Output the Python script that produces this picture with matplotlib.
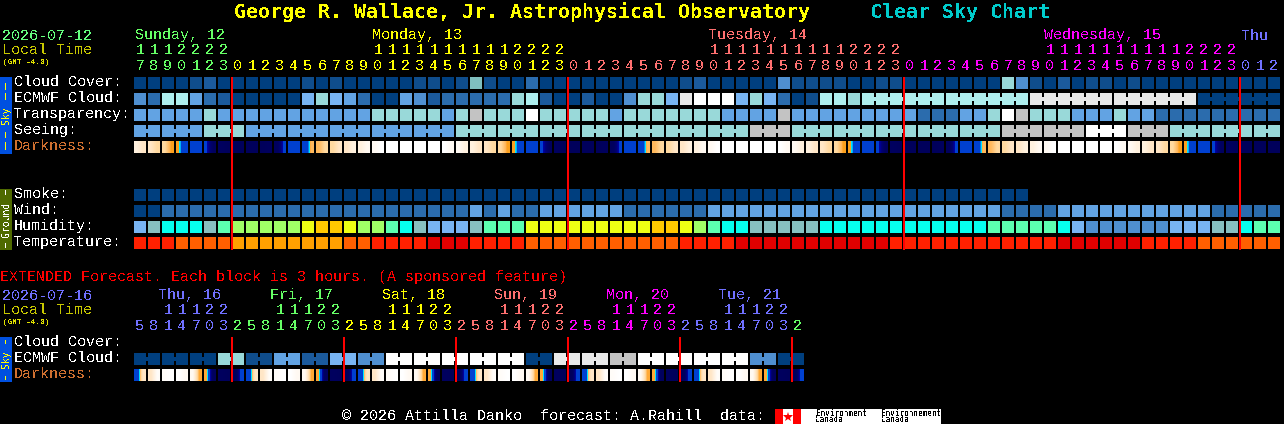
import matplotlib
matplotlib.use('Agg')
import matplotlib.pyplot as plt
from matplotlib.colors import LinearSegmentedColormap

plt.rcParams['font.family'] = ['Liberation Mono', 'DejaVu Sans Mono']
plt.rcParams['text.antialiased'] = False

# block colours, shared by the sky rows
palette = {
    'A': '#003f7f', 'B': '#0f4d8c', 'C': '#1b5a9c', 'D': '#2b6cad', 'E': '#4f8fd0',
    'F': '#62a3e3', 'G': '#78b4f2', 'H': '#99d9d9', 'T': '#7fbfbf', 'I': '#aeeeee',
    'J': '#c3c3c3', 'K': '#e9e9e9', 'L': '#ffffff',
    # humidity
    'a': '#78b4f2', 'b': '#87c0c0', 'c': '#06ffee', 'd': '#5cffb0', 'e': '#a0ff66',
    'f': '#eeff14', 'g': '#ffc800', 'h': '#4f8fd0',
    # temperature
    'p': '#ff2000', 'q': '#ff5f00', 'r': '#ffa000', 's': '#e00000',
}

hours = [17, 18, 19, 20, 21, 22, 23,
         0, 1, 2, 3, 4, 5, 6, 7, 8, 9, 10, 11, 12, 13, 14, 15, 16, 17, 18, 19, 20, 21, 22, 23,
         0, 1, 2, 3, 4, 5, 6, 7, 8, 9, 10, 11, 12, 13, 14, 15, 16, 17, 18, 19, 20, 21, 22, 23,
         0, 1, 2, 3, 4, 5, 6, 7, 8, 9, 10, 11, 12, 13, 14, 15, 16, 17, 18, 19, 20, 21, 22, 23,
         0, 1, 2]
hour_colors = ['#66ff66'] * 7 + ['#ffff00'] * 24 + ['#ff7070'] * 24 + ['#ff00ff'] * 24 + ['#7070ff'] * 3

cloud = 'AAAABCAAAAAABABAAAAAB' 'BABTBAADAAAAAAAAAABCAAAAAEBBBBA' 'ABBAAAAAAAHEBACABBABAAAAAAAAAA'
ecmwf = 'EDIIFDCAAAAAGHGFDAAFE' 'CDDDDDHICAACAAEHHGKLLLGHGDABIIH' 'IIIIIIIIIIIIKKKKKKKKKKKKAAAAAA'
transparency = 'FFFFFHFFFFFFFFFFFHHHHH' 'FHJHHHLHHHHHFHHHHHHHFFFFJFFFFF' 'FFFFDDDFFHLJHHHFFFHFFDDDDDDDDD'
seeing_groups = 'FFHFFFFFHHHHHHHJHHHHHJJLJHHH'
seeing_sizes = [2, 3, 3, 3, 3, 3, 3, 3, 3, 3, 3, 3, 3, 3, 3, 3, 3, 3, 3, 3, 3, 3, 3, 3, 3, 3, 3, 2]
smoke = 'AAAAAAAAAAAAAAAAAAAAAAAAAAAAAAAAAAAAAAAAAAAAAAAAAAAAAAAAAAAAAAAA'
wind = 'AADDDDDDDDDDDDDDDDDDDDDD' 'FDFDDFFFFFFDDDDDD' 'FFFFFFFFFFFFFFFFFFFFF' 'DDDD' 'FFFFFFFFFFF' 'DDDDD'
humidity = 'abcccbdeeeeefggfeedcb' 'aaabdddfffffffffggfedccbbbbbccc' 'ccccccccc' 'dddddcahhhhhhaaabbcdd'
temperature = 'pppqqqqrrrrrrrrqqpppp' 'ssspppp' 'qqqqqqqqqqq' 'pppp' 'sssssssssss' 'pppppppppppp' 'ssssss' 'pppp' 'qqqqqq'

# darkness level at the edges of each block (0 = daylight, 1 = full dark)
darkness = [.12, .22, .32, .43, .60, .66, .85, .95, .97, .97, .90, .66, .60, .40, .32, .22, .12, .04,
            0, 0, 0, 0, 0, .04,
            .12, .22, .32, .43, .60, .66, .85, .95, .97, .97, .90, .66, .60, .40, .32, .22, .12, .04,
            0, 0, 0, 0, 0, .04,
            .12, .22, .32, .43, .60, .66, .85, .95, .97, .97, .90, .66, .60, .40, .32, .22, .12, .04,
            0, 0, 0, 0, 0, .04,
            .12, .22, .32, .43, .60, .66, .85, .95, .97, .97, .97]
dark_stops = [(0, '#ffffff'), (.04, '#fff9f2'), (.12, '#fff1df'), (.22, '#ffe6c6'), (.32, '#ffd9a0'),
              (.41, '#ffb454'), (.43, '#ff9f1a'), (.437, '#00e5ff'), (.462, '#00e5ff'), (.48, '#0090f0'), (.495, '#0040d0'),
              (.66, '#0040d0'), (.67, '#0000a8'), (.75, '#000075'), (.85, '#000060'), (1, '#00005a')]
dark_cmap = LinearSegmentedColormap.from_list('darkness', dark_stops, N=1024)

ext_hours = [5, 8, 11, 14, 17, 20, 23,
             2, 5, 8, 11, 14, 17, 20, 23,
             2, 5, 8, 11, 14, 17, 20, 23,
             2, 5, 8, 11, 14, 17, 20, 23,
             2, 5, 8, 11, 14, 17, 20, 23,
             2, 5, 8, 11, 14, 17, 20, 23,
             2]
ext_colors = ['#7070ff'] * 7 + ['#66ff66'] * 8 + ['#ffff00'] * 8 + ['#ff7070'] * 8 + ['#ff00ff'] * 8 + ['#7070ff'] * 8 + ['#66ff66']
ext_ecmwf = 'AAAHBFCGELLLLLAKKJLLLLEA'
ext_darkness = [.60, .22, .02, 0, .04, .42, .88, .95,
                .60, .22, .02, 0, .04, .42, .88, .95,
                .60, .22, .02, 0, .04, .42, .88, .95,
                .60, .22, .02, 0, .04, .42, .88, .95,
                .60, .22, .02, 0, .04, .42, .88, .95,
                .60, .22, .02, 0, .04, .42, .88, .95, .60]

days = [('Sunday, 12', 135, '#66ff66'), ('Monday, 13', 372, '#ffff00'), ('Tuesday, 14', 708, '#ff7070'),
        ('Wednesday, 15', 1044, '#ff00ff'), ('Thu', 1241, '#7070ff')]
ext_days = [('Thu, 16', 158, '#7070ff'), ('Fri, 17', 270, '#66ff66'), ('Sat, 18', 382, '#ffff00'),
            ('Sun, 19', 494, '#ff7070'), ('Mon, 20', 606, '#ff00ff'), ('Tue, 21', 718, '#7070ff')]
midnights = [232, 568, 904, 1240]
ext_midnights = [232, 344, 456, 568, 680, 792]

X0 = 134
PITCH = 14
SIZE = 12

fig = plt.figure(figsize=(12.84, 4.24), dpi=100, facecolor='black')
ax = fig.add_axes([0, 0, 1, 1], facecolor='black')
ax.set_axis_off()


def draw_blocks(codes, y):
    xs = [X0 + PITCH * i for i in range(len(codes))]
    ax.bar(xs, SIZE, width=SIZE, bottom=y, align='edge', color=[palette[c] for c in codes], linewidth=0, antialiased=False)


def draw_runs(codes, sizes, y, start=0):
    # blocks of one forecast value, joined by a short bridge
    i = start
    for code, n in zip(codes, sizes):
        xs = [X0 + PITCH * (i + k) for k in range(n)]
        ax.bar(xs, SIZE, width=SIZE, bottom=y, align='edge', color=palette[code], linewidth=0, antialiased=False)
        ax.bar(xs[:-1], 4, width=PITCH, bottom=y + 4, align='edge', color=palette[code], linewidth=0, antialiased=False)
        i += n


def draw_darkness(levels, y):
    for i in range(len(levels) - 1):
        x = X0 + PITCH * i
        ax.imshow([[levels[i], levels[i + 1]]], extent=(x, x + SIZE, y + SIZE, y), cmap=dark_cmap, vmin=0, vmax=1,
                  aspect='auto', interpolation='bilinear', zorder=2)


def label(x, y, s, color='white', size=10.8, **kw):
    ax.text(x, y + 0.5, s, color=color, fontsize=size, va='center', ha=kw.pop('ha', 'left'), **kw)


def hour_digits(hrs, colors, y_tens, y_ones):
    for i, (h, c) in enumerate(zip(hrs, colors)):
        xc = X0 + 6 + PITCH * i
        if h >= 10:
            label(xc, y_tens, str(h)[0], c, ha='center')
        label(xc, y_ones, str(h % 10), c, ha='center')


def side_bar(y0, y1, color, text_color, name, yc, dashes):
    ax.bar(0, y1 - y0, width=12, bottom=y0, align='edge', color=color, linewidth=0, antialiased=False, zorder=1)
    ax.text(6, yc, name, color=text_color, fontsize=7, family='DejaVu Sans Mono', rotation=90, va='center', ha='center')
    for a, b in dashes:
        ax.bar(5, b - a, width=1, bottom=a, align='edge', color=text_color, linewidth=0, antialiased=False, zorder=2)


# header
ax.text(234, 12, 'George R. Wallace, Jr. Astrophysical Observatory', color='#ffff00', fontsize=14.35, fontweight='bold',
        family='DejaVu Sans Mono', va='center')
ax.text(870, 12, 'Clear Sky Chart', color='#00cccc', fontsize=14.35, fontweight='bold',
        family='DejaVu Sans Mono', va='center')

label(2, 35, '2026-07-12', '#66ff80')
label(2, 50, 'Local Time', '#c8c800')
label(3, 62, '(GMT -4.0)', '#e0e000', size=5.6)
for name, x, c in days:
    label(x, 35, name, c)
hour_digits(hours, hour_colors, 50, 65)

# sky rows
side_bar(77, 154, '#0050e0', '#ffff00', 'Sky', 115, [(83, 90), (93, 100), (132, 138), (142, 150)])
for name, y in [('Cloud Cover:', 81.5), ('ECMWF Cloud:', 97.5), ('Transparency:', 113.5), ('Seeing:', 129.5)]:
    label(14, y, name)
label(14, 145.5, 'Darkness:', '#d07030')
draw_blocks(cloud, 77)
draw_blocks(ecmwf[:52], 93)
draw_runs([ecmwf[52], ecmwf[58], ecmwf[64], ecmwf[70], ecmwf[76]], [6, 6, 6, 6, 6], 93, start=52)
draw_blocks(transparency, 109)
draw_runs(seeing_groups, seeing_sizes, 125)
draw_darkness(darkness, 141)

# ground rows
side_bar(189, 250, '#4f6a00', '#ffffff', 'Ground', 219, [(190, 195), (243, 248)])
for name, y in [('Smoke:', 193.5), ('Wind:', 209.5), ('Humidity:', 225.5), ('Temperature:', 241.5)]:
    label(14, y, name)
draw_blocks(smoke, 189)
draw_blocks(wind, 205)
draw_blocks(humidity, 221)
draw_blocks(temperature, 237)

for x in midnights:
    ax.bar(x - 1, 173, width=2, bottom=77, align='edge', color='#ff0000', linewidth=0, antialiased=False, zorder=5)

# extended forecast
label(0, 276, 'EXTENDED Forecast. Each block is 3 hours. (A sponsored feature)', '#ff0000')
label(2, 295, '2026-07-16', '#7070ff')
label(2, 310, 'Local Time', '#c8c800')
label(3, 322, '(GMT -4.0)', '#e0e000', size=5.6)
for name, x, c in ext_days:
    label(x, 295, name, c)
hour_digits(ext_hours, ext_colors, 310, 325)

side_bar(337, 382, '#0050e0', '#ffff00', 'Sky', 359, [(340, 344), (376, 380)])
label(14, 341.5, 'Cloud Cover:')
label(14, 357.5, 'ECMWF Cloud:')
label(14, 373.5, 'Darkness:', '#d07030')
draw_runs(ext_ecmwf, [2] * 24, 353)
draw_darkness(ext_darkness, 369)
for x in ext_midnights:
    ax.bar(x - 1, 45, width=2, bottom=337, align='edge', color='#ff0000', linewidth=0, antialiased=False, zorder=5)

# footer
label(342, 415, '\u00a9 2026 Attilla Danko  forecast: A.Rahill  data:')
ax.bar(775, 15, width=166, bottom=409, align='edge', color='white', linewidth=0, antialiased=False)
ax.bar([775, 793], 15, width=8, bottom=409, align='edge', color='#ff0000', linewidth=0, antialiased=False, zorder=2)
ax.plot([788], [416.5], marker='*', markersize=7, color='#ff0000', markeredgewidth=0, zorder=3)
for x, name in [(816, 'Environment'), (881, 'Environnement')]:
    ax.text(x, 413, name, color='black', fontsize=5.5, family='DejaVu Sans Mono', va='center', zorder=3)
    ax.text(x, 420, 'Canada', color='black', fontsize=5.5, family='DejaVu Sans Mono', va='center', zorder=3)

ax.set_xlim(0, 1284)
ax.set_ylim(424, 0)

fig.savefig('out.png', dpi=100, facecolor='black')
